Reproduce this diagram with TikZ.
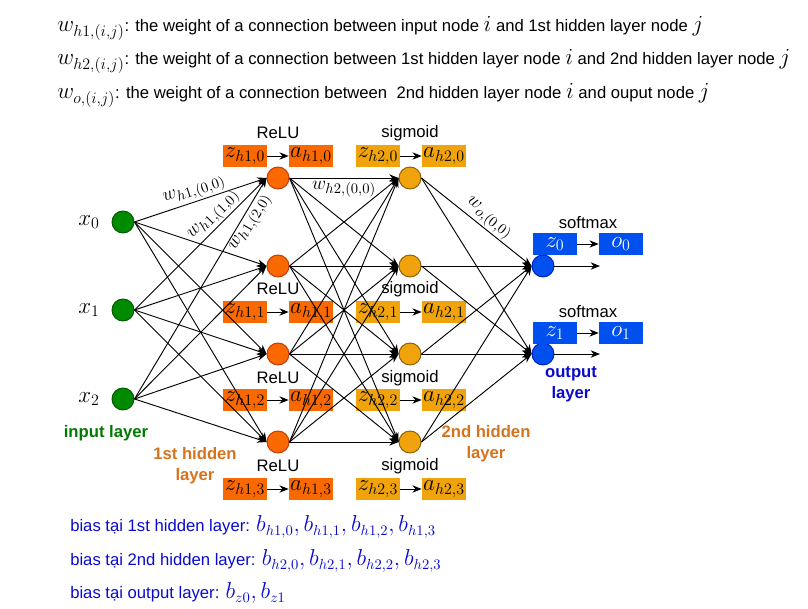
\documentclass[tikz,border=0pt]{standalone}
\usepackage{amsmath}
\usepackage{fontspec}
\setmainfont{Liberation Sans}
\usetikzlibrary{arrows.meta}
\usepackage{xcolor}

\definecolor{ingreen}{HTML}{008A00}
\definecolor{ingreendark}{HTML}{005700}
\definecolor{hidorange}{HTML}{FA6800}
\definecolor{hidorangedark}{HTML}{C73500}
\definecolor{hidamber}{HTML}{F0A30A}
\definecolor{hidamberdark}{HTML}{8A5A00}
\definecolor{outblue}{HTML}{0050EF}
\definecolor{outbluedark}{HTML}{001DBC}
\definecolor{labgreen}{HTML}{007A00}
\definecolor{laborange}{HTML}{D6731C}
\definecolor{labblue}{HTML}{0A0ACC}

\newcommand{\legmath}{\fontsize{17}{19}\selectfont}
\newcommand{\biasmath}{\fontsize{16}{18}\selectfont}

\tikzset{
	neuron/.style={circle, minimum size=16.5pt, inner sep=0pt, line width=0.7pt},
	innode/.style={neuron, fill=ingreen, draw=ingreendark},
	hidonenode/.style={neuron, fill=hidorange, draw=hidorangedark},
	hidtwonode/.style={neuron, fill=hidamber, draw=hidamberdark},
	outnode/.style={neuron, fill=outblue, draw=outbluedark},
	valbox/.style={rectangle, minimum width=33pt, minimum height=16.5pt, inner sep=0pt, font=\fontsize{17}{19}\selectfont},
	onebox/.style={valbox, fill=hidorange},
	twobox/.style={valbox, fill=hidamber},
	outbox/.style={valbox, fill=outblue, text=white},
	conn/.style={-{Stealth[length=7pt,width=5.5pt]}, line width=0.7pt},
	layerlab/.style={font=\bfseries\fontsize{12.5}{15.5}\selectfont, align=center},
	wlab/.style={font=\fontsize{15}{17}\selectfont, inner sep=1pt},
	xlab/.style={font=\fontsize{17}{19}\selectfont},
}

\begin{document}
\begin{tikzpicture}[x=0.75pt, y=-0.75pt, font=\fontsize{12.5}{15}\selectfont]
	\useasboundingbox (0,0) rectangle (808,609);
	% legend of the weights
	\node[anchor=base west, inner sep=0pt] (legone) at (57,32) {{\legmath$w_{h1,(i,j)}$}: the weight of a connection between input node {\legmath$i$} and 1st hidden layer node {\legmath$j$}};
	\node[anchor=base west, inner sep=0pt] (legtwo) at (57,65) {{\legmath$w_{h2,(i,j)}$}: the weight of a connection between 1st hidden layer node {\legmath$i$} and 2nd hidden layer node {\legmath$j$}};
	\node[anchor=base west, inner sep=0pt] (legout) at (57,99) {{\legmath$w_{o,(i,j)}$}: the weight of a connection between\ \ 2nd hidden layer node {\legmath$i$} and ouput node {\legmath$j$}};
	% input layer
	\node[innode] (x0) at (123,222) {};
	\node[innode] (x1) at (123,310) {};
	\node[innode] (x2) at (123,399) {};
	\node[xlab] (x0lab) at (89,222) {$x_0$};
	\node[xlab] (x1lab) at (89,310) {$x_1$};
	\node[xlab] (x2lab) at (89,399) {$x_2$};
	\node[layerlab, text=labgreen] (inlab) at (106,433) {input layer};
	% 1st hidden layer
	\node[hidonenode] (h10) at (278,178) {};
	\node[hidonenode] (h11) at (278,266) {};
	\node[hidonenode] (h12) at (278,354) {};
	\node[hidonenode] (h13) at (278,442) {};
	\node (relu0) at (278,133) {ReLU};
	\node (relu1) at (278,289) {ReLU};
	\node (relu2) at (278,378) {ReLU};
	\node (relu3) at (278,466) {ReLU};
	\node[onebox] (zh10) at (245,156) {$z_{h1,0}$};
	\node[onebox] (ah10) at (311,156) {$a_{h1,0}$};
	\node[onebox] (zh11) at (245,312) {$z_{h1,1}$};
	\node[onebox] (ah11) at (311,312) {$a_{h1,1}$};
	\node[onebox] (zh12) at (245,400) {$z_{h1,2}$};
	\node[onebox] (ah12) at (311,400) {$a_{h1,2}$};
	\node[onebox] (zh13) at (245,489) {$z_{h1,3}$};
	\node[onebox] (ah13) at (311,489) {$a_{h1,3}$};
	\node[layerlab, text=laborange] (honelab) at (195,466) {1st hidden\\layer};
	% 2nd hidden layer
	\node[hidtwonode] (h20) at (410,178) {};
	\node[hidtwonode] (h21) at (410,266) {};
	\node[hidtwonode] (h22) at (410,354) {};
	\node[hidtwonode] (h23) at (410,442) {};
	\node (sig0) at (410,133) {sigmoid};
	\node (sig1) at (410,289) {sigmoid};
	\node (sig2) at (410,378) {sigmoid};
	\node (sig3) at (410,466) {sigmoid};
	\node[twobox] (zh20) at (378,156) {$z_{h2,0}$};
	\node[twobox] (ah20) at (444,156) {$a_{h2,0}$};
	\node[twobox] (zh21) at (378,312) {$z_{h2,1}$};
	\node[twobox] (ah21) at (444,312) {$a_{h2,1}$};
	\node[twobox] (zh22) at (378,400) {$z_{h2,2}$};
	\node[twobox] (ah22) at (444,400) {$a_{h2,2}$};
	\node[twobox] (zh23) at (378,489) {$z_{h2,3}$};
	\node[twobox] (ah23) at (444,489) {$a_{h2,3}$};
	\node[layerlab, text=laborange] (htwolab) at (486,444) {2nd hidden\\layer};
	% output layer
	\node[outnode] (o0) at (543,266) {};
	\node[outnode] (o1) at (543,354) {};
	\node (soft0) at (588,223) {softmax};
	\node (soft1) at (588,312) {softmax};
	\node[outbox] (z0) at (555,244) {$z_0$};
	\node[outbox] (oo0) at (621,244) {$o_0$};
	\node[outbox] (z1) at (555,333) {$z_1$};
	\node[outbox] (oo1) at (621,333) {$o_1$};
	\coordinate (end0) at (600,266);
	\coordinate (end1) at (600,354);
	\node[layerlab, text=labblue] (outlab) at (571,384) {output\\layer};
	% arrows inside the boxes rows
	\draw[conn] (zh10) -- (ah10);
	\draw[conn] (zh11) -- (ah11);
	\draw[conn] (zh12) -- (ah12);
	\draw[conn] (zh13) -- (ah13);
	\draw[conn] (zh20) -- (ah20);
	\draw[conn] (zh21) -- (ah21);
	\draw[conn] (zh22) -- (ah22);
	\draw[conn] (zh23) -- (ah23);
	\draw[conn] (z0) -- (oo0);
	\draw[conn] (z1) -- (oo1);
	% input -> 1st hidden
	\draw[conn] (x0.east) -- (h10.west) node[wlab, pos=0.48, above, sloped] {$w_{h1,(0,0)}$};
	\draw[conn] (x0.east) -- (h11.west);
	\draw[conn] (x0.east) -- (h12.west);
	\draw[conn] (x0.east) -- (h13.west);
	\draw[conn] (x1.east) -- (h10.west) node[wlab, pos=0.66, above, sloped] {$w_{h1,(1,0)}$};
	\draw[conn] (x1.east) -- (h11.west);
	\draw[conn] (x1.east) -- (h12.west);
	\draw[conn] (x1.east) -- (h13.west);
	\draw[conn] (x2.east) -- (h10.west) node[wlab, pos=0.82, below, sloped] {$w_{h1,(2,0)}$};
	\draw[conn] (x2.east) -- (h11.west);
	\draw[conn] (x2.east) -- (h12.west);
	\draw[conn] (x2.east) -- (h13.west);
	% 1st hidden -> 2nd hidden
	\draw[conn] (h10.east) -- (h20.west) node[wlab, pos=0.5, below, yshift=-1pt] {$w_{h2,(0,0)}$};
	\draw[conn] (h10.east) -- (h21.west);
	\draw[conn] (h10.east) -- (h22.west);
	\draw[conn] (h10.east) -- (h23.west);
	\draw[conn] (h11.east) -- (h20.west);
	\draw[conn] (h11.east) -- (h21.west);
	\draw[conn] (h11.east) -- (h22.west);
	\draw[conn] (h11.east) -- (h23.west);
	\draw[conn] (h12.east) -- (h20.west);
	\draw[conn] (h12.east) -- (h21.west);
	\draw[conn] (h12.east) -- (h22.west);
	\draw[conn] (h12.east) -- (h23.west);
	\draw[conn] (h13.east) -- (h20.west);
	\draw[conn] (h13.east) -- (h21.west);
	\draw[conn] (h13.east) -- (h22.west);
	\draw[conn] (h13.east) -- (h23.west);
	% 2nd hidden -> output
	\draw[conn] (h20.east) -- (o0.west) node[wlab, pos=0.55, above, sloped] {$w_{o,(0,0)}$};
	\draw[conn] (h20.east) -- (o1.west);
	\draw[conn] (h21.east) -- (o0.west);
	\draw[conn] (h21.east) -- (o1.west);
	\draw[conn] (h22.east) -- (o0.west);
	\draw[conn] (h22.east) -- (o1.west);
	\draw[conn] (h23.east) -- (o0.west);
	\draw[conn] (h23.east) -- (o1.west);
	\draw[conn] (o0.east) -- (end0);
	\draw[conn] (o1.east) -- (end1);
	% biases
	\node[anchor=base west, inner sep=0pt, text=labblue] (biasone) at (70,532) {bias tại 1st hidden layer: {\biasmath$b_{h1,0}, b_{h1,1}, b_{h1,2}, b_{h1,3}$}};
	\node[anchor=base west, inner sep=0pt, text=labblue] (biastwo) at (70,566) {bias tại 2nd hidden layer: {\biasmath$b_{h2,0}, b_{h2,1}, b_{h2,2}, b_{h2,3}$}};
	\node[anchor=base west, inner sep=0pt, text=labblue] (biasout) at (70,599) {bias tại output layer: {\biasmath$b_{z0}, b_{z1}$}};
\end{tikzpicture}
\end{document}
